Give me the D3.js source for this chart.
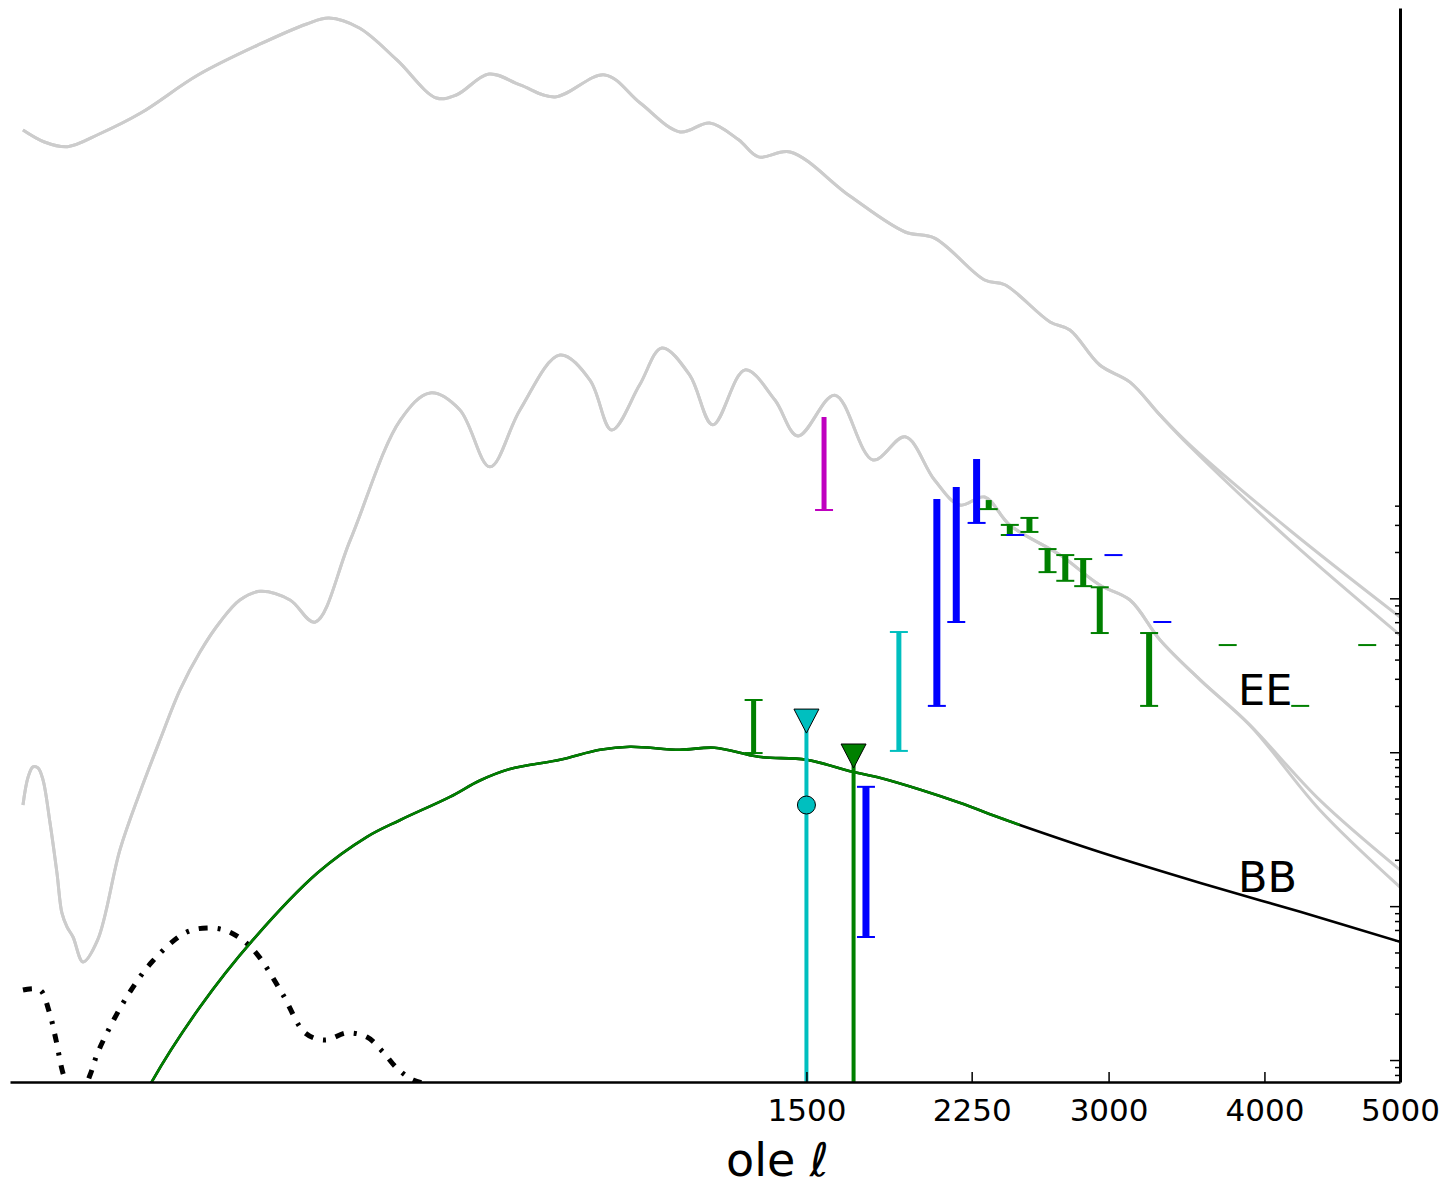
<!DOCTYPE html>
<html>
<head>
<meta charset="utf-8">
<script src="https://cdn.jsdelivr.net/npm/d3@7"></script>
<style>
  body { margin: 0; background: #fff; }
  text { font-family: "DejaVu Sans", sans-serif; }
</style>
</head>
<body>
<div id="viz"></div>
<script>
// multipole values and spectra (D_ell in uK^2)
var ellTT = [2,5,10,20,39,77,135,190,220,265,327,400,440,510,582,669,805,910,1037,1137,1240,1313,1435,1681,1928,2067,2316,2421,2665,2776,2948,3128,3313,3503,4176,5000];
var ttA   = [1104,923,860,1040,1423,2512,4000,5395,5900,5080,3150,1782,1864,2552,2168,1811,2518,1652,1073,1227,953,738,795,411,240,219,117,109,62.5,55.4,32.8,25.4,15.5,9.9,2.78,0.756];
var ttB   = [1104,923,860,1040,1423,2512,4000,5395,5900,5080,3150,1782,1864,2552,2168,1811,2518,1652,1073,1227,953,738,795,411,240,219,117,109,62.5,55.4,32.8,25.4,15.5,9.7,2.39,0.577];

var ellEE = [2,2.57,3.22,3.95,4.76,6.04,7.48,8.6,9.85,11.45,14.4,19.4,28.6,38.6,50.2,63.5,78.6,95.5,114,134.6,169,200.7,251,333,388,447,512,582,682,763,825,908,978,1069,1148,1263,1375,1466,1617,1782,1928,2067,2190,2316,2447,2721,2948,3128,3313,3570,3900,4392,5000];
var eeA   = [0.0454,0.0686,0.0804,0.0792,0.0662,0.0348,0.0164,0.00903,0.00733,0.0063,0.00434,0.00603,0.0232,0.055,0.12,0.2535,0.448,0.702,0.975,1.11,0.975,0.70,2.39,14.4,21.6,16.8,7.15,16.8,38.1,26.2,12.4,24.3,42.3,28.2,13.4,30.5,19.5,11.35,20.9,7.93,11.2,5.87,4.04,4.55,2.99,1.91,1.22,0.975,0.536,0.294,0.150,0.049,0.0172];
var eeB   = [0.0454,0.0686,0.0804,0.0792,0.0662,0.0348,0.0164,0.00903,0.00733,0.0063,0.00434,0.00603,0.0232,0.055,0.12,0.2535,0.448,0.702,0.975,1.11,0.975,0.70,2.39,14.4,21.6,16.8,7.15,16.8,38.1,26.2,12.4,24.3,42.3,28.2,13.4,30.5,19.5,11.35,20.9,7.93,11.2,5.87,4.04,4.55,2.99,1.91,1.22,0.975,0.536,0.294,0.150,0.0423,0.0133];

var ellBB = [20,30,44.8,78.6,127,204,277,333,427,490,558,682,791,879,1036,1154,1313,1500,1694,1812,2000,2190,2394,2500,2948,3570,4252,5000];
var bb    = [0.0001,0.0003,0.000708,0.00221,0.00601,0.0164,0.0282,0.0363,0.0513,0.0655,0.0778,0.0893,0.1037,0.1085,0.1037,0.107,0.0934,0.0893,0.0746,0.0682,0.057,0.0469,0.0375,0.0337,0.0225,0.01416,0.00918,0.00586];
var bbGreenMax = 2500;

var ellDD = [2,4.26,5.85,7.27,8.86,10.6,12.9,16.7,19.1,23,31.9,45.4,67.2,84.3,101.8,119,134.6,160.6,188,214.5,246,277,303,327,356,400,450];
var dd    = [0.00285,0.00285,0.00208,0.00135,0.000822,0.000638,0.00055,0.0008,0.00108,0.0015,0.00258,0.00435,0.0067,0.00722,0.0069,0.00586,0.00461,0.00265,0.0015,0.00135,0.0015,0.00141,0.00113,0.000887,0.000742,0.00068,0.0006];

// band powers: ell, low, high, colour key, which caps are shown
var barEll   = [1295,1572,1751,1899,2078,2173,2275,2337,2447,2476,2552,2651,2750,2852,2948,3245,3029,3327,3750,4747,4252];
var barLo    = [0.0988,3.75,0.0063,0.102,0.2,0.702,3.09,3.80,2.58,2.58,2.70,1.48,1.30,1.20,0.595,0.2,1.91,0.702,0.497,0.497,0.2];
var barHi    = [0.2184,15.07,0.0596,0.604,4.42,5.29,8.04,4.35,3.0,2.58,3.33,2.09,1.91,1.80,1.18,0.595,1.91,0.702,0.497,0.497,0.2];
var barSet   = ["g","m","b","c","b","b","b","g","g","b","g","g","g","g","g","g","b","b","g","g","g"];
var barCaps  = ["both","lo","both","both","lo","lo","lo","lo","both","lo","both","both","both","both","both","both","lo","lo","lo","lo","lo"];

// upper limits: ell, limit, optional point
var limEll   = [1500,1697];
var limHi    = [0.157,0.0931];
var limPoint = [0.0454,null];
var limSet   = ["c","g"];

var xTicks = [1500,2250,3000,4000,5000];

var colours = {g: "#008000", m: "#bf00bf", b: "#0000ff", c: "#00bfbf"};

var W = 1446, H = 1187;
var svg = d3.select("#viz").append("svg").attr("width", W).attr("height", H);

var x = d3.scalePow().exponent(0.45).domain([0.88, 5000]).range([10, 1400]);
var y = d3.scaleLog().domain([7.2e-4, 6850]).range([1082, 8]);

svg.append("clipPath").attr("id", "clip")
  .append("rect").attr("x", 10).attr("y", 8).attr("width", 1390).attr("height", 1074);

var plot = svg.append("g").attr("clip-path", "url(#clip)");

function curve(ells, vals) {
  return d3.line()
    .x(function (d, i) { return x(ells[i]); })
    .y(function (d, i) { return y(vals[i]); })
    .curve(d3.curveCatmullRom.alpha(0.5))(vals);
}

// grey theory curves
[[ellTT, ttA], [ellTT, ttB], [ellEE, eeA], [ellEE, eeB]].forEach(function (c) {
  plot.append("path").attr("d", curve(c[0], c[1]))
    .attr("fill", "none").attr("stroke", "#cccccc").attr("stroke-width", 3);
});

// dash-dot curve
plot.append("path").attr("d", curve(ellDD, dd))
  .attr("fill", "none").attr("stroke", "#000").attr("stroke-width", 5)
  .attr("stroke-dasharray", "9,10,3,10");

// BB lensing
plot.append("path").attr("d", curve(ellBB, bb))
  .attr("fill", "none").attr("stroke", "#000").attr("stroke-width", 2.6);
var gi = ellBB.filter(function (l) { return l <= bbGreenMax; }).length;
plot.append("path").attr("d", curve(ellBB.slice(0, gi), bb.slice(0, gi)))
  .attr("fill", "none").attr("stroke", colours.g).attr("stroke-width", 2.6);

// error bars
var capW = 9;
barEll.forEach(function (l, i) {
  var col = colours[barSet[i]];
  var cx = x(l), y0 = y(barLo[i]), y1 = y(barHi[i]);
  var lw = barSet[i] === "b" ? 7 : (barSet[i] === "g" && l > 2000 ? 6 : 5);
  if (barLo[i] !== barHi[i]) {
    plot.append("line").attr("x1", cx).attr("x2", cx).attr("y1", y0).attr("y2", y1)
      .attr("stroke", col).attr("stroke-width", lw);
  }
  plot.append("line").attr("x1", cx - capW).attr("x2", cx + capW).attr("y1", y0).attr("y2", y0)
    .attr("stroke", col).attr("stroke-width", 2);
  if (barCaps[i] === "both") {
    plot.append("line").attr("x1", cx - capW).attr("x2", cx + capW).attr("y1", y1).attr("y2", y1)
      .attr("stroke", col).attr("stroke-width", 2);
  }
});

// upper limits
limEll.forEach(function (l, i) {
  var col = colours[limSet[i]];
  var cx = x(l), yt = y(limHi[i]);
  plot.append("line").attr("x1", cx).attr("x2", cx).attr("y1", yt).attr("y2", 1090)
    .attr("stroke", col).attr("stroke-width", 4);
  plot.append("path")
    .attr("d", "M" + (cx - 12.5) + "," + (yt - 13) + "L" + (cx + 12.5) + "," + (yt - 13) + "L" + cx + "," + (yt + 11) + "Z")
    .attr("fill", col).attr("stroke", "#000").attr("stroke-width", 1);
  if (limPoint[i] !== null) {
    plot.append("circle").attr("cx", cx).attr("cy", y(limPoint[i])).attr("r", 9)
      .attr("fill", col).attr("stroke", "#000").attr("stroke-width", 1);
  }
});

// axes
var xAxis = svg.append("g").attr("transform", "translate(0,1082)")
  .call(d3.axisBottom(x).tickValues(xTicks).tickFormat(d3.format("d"))
    .tickSizeInner(-10).tickSizeOuter(0).tickPadding(17));
xAxis.select(".domain").attr("stroke-width", 2.5);
xAxis.selectAll(".tick line").attr("stroke-width", 1.5);
xAxis.selectAll("text").attr("font-size", 31).attr("fill", "#000");

var majors = [1e-3, 1e-2, 1e-1, 1];
var minors = [8e-4, 9e-4];
[1e-3, 1e-2, 1e-1].forEach(function (d) {
  for (var k = 2; k <= 9; k++) minors.push(k * d);
});
minors.push(2, 3, 4);

var yAxis = svg.append("g").attr("transform", "translate(1400,0)")
  .call(d3.axisLeft(y).tickValues(majors).tickFormat("").tickSizeInner(10).tickSizeOuter(0));
yAxis.select(".domain").attr("stroke-width", 3);
yAxis.selectAll(".tick line").attr("stroke-width", 1.5);
var yMinor = svg.append("g").attr("transform", "translate(1400,0)")
  .call(d3.axisLeft(y).tickValues(minors).tickFormat("").tickSizeInner(5).tickSizeOuter(0));
yMinor.select(".domain").remove();
yMinor.selectAll(".tick line").attr("stroke-width", 1.5);

// labels
svg.append("text").attr("x", 1238).attr("y", 705).attr("font-size", 43).text("EE");
svg.append("text").attr("x", 1238).attr("y", 892).attr("font-size", 43).text("BB");
var xl = svg.append("text").attr("x", 726).attr("y", 1176).attr("font-size", 46);
xl.append("tspan").text("ole ");
xl.append("tspan").attr("font-style", "italic").text("ℓ");
</script>
</body>
</html>
